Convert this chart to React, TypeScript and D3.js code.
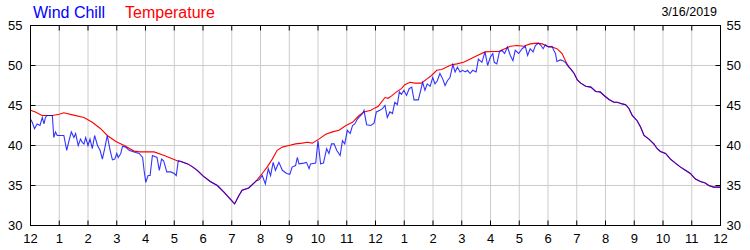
import React from 'react';
import * as d3 from 'd3';

// [hour of day, °F]
const temperature: [number, number][] = [
  [0, 44.4], [0.17, 44.2], [0.4, 43.75], [0.76, 43.75], [1.0, 43.9], [1.16, 44.1], [1.5, 43.8],
  [1.86, 43.5], [2.15, 42.9], [2.44, 42.1], [2.67, 41.25], [2.97, 40.5], [3.26, 40.0], [3.6, 39.3],
  [3.8, 39.2], [4.3, 39.2], [4.65, 38.75], [5.1, 38.1], [5.23, 38.0], [5.47, 37.7], [5.65, 37.3],
  [5.8, 36.9], [6.0, 36.2], [6.25, 35.5], [6.5, 35.0], [6.72, 34.2], [6.95, 33.3], [7.1, 32.7],
  [7.24, 33.7], [7.36, 34.4], [7.59, 34.7], [7.77, 35.3], [7.86, 35.6], [8.06, 36.5], [8.23, 37.3],
  [8.41, 38.3], [8.58, 39.4], [8.76, 39.8], [8.99, 40.0], [9.22, 40.2], [9.45, 40.3], [9.63, 40.4],
  [9.8, 40.3], [10.03, 40.8], [10.27, 41.4], [10.5, 41.7], [10.73, 41.9], [10.97, 42.5], [11.2, 42.9],
  [11.43, 43.75], [11.6, 44.2], [11.84, 44.4], [11.98, 44.7], [12.1, 44.9], [12.2, 45.4], [12.33, 46.0],
  [12.44, 45.9], [12.56, 46.2], [12.73, 46.7], [12.9, 47.1], [13.02, 47.6], [13.2, 47.9], [13.37, 47.8],
  [13.6, 47.8], [13.78, 48.3], [13.95, 48.75], [14.13, 49.4], [14.3, 49.5], [14.48, 49.8], [14.65, 50.1],
  [14.83, 50.2], [15.06, 50.4], [15.23, 50.7], [15.4, 51.0], [15.58, 51.3], [15.81, 51.7], [16.05, 51.75],
  [16.28, 51.75], [16.5, 52.1], [16.69, 52.4], [16.92, 52.5], [17.15, 52.4], [17.38, 52.7], [17.62, 52.8],
  [17.8, 52.7], [17.97, 52.4], [18.14, 52.3], [18.31, 52.1], [18.49, 51.5], [18.66, 50.2], [18.78, 49.6],
  [18.91, 49.0], [19.02, 48.2], [19.14, 47.8], [19.31, 47.4], [19.49, 47.3], [19.66, 46.75], [19.81, 46.7],
  [19.95, 46.25], [20.12, 45.75], [20.29, 45.4], [20.41, 45.4], [20.58, 45.2], [20.7, 45.1], [20.82, 44.6],
  [20.93, 43.75], [21.1, 43.1], [21.22, 42.3], [21.34, 41.25], [21.51, 40.8], [21.68, 40.2], [21.8, 39.6],
  [21.91, 39.25], [22.09, 39.0], [22.26, 38.3], [22.43, 37.8], [22.61, 37.3], [22.78, 36.9], [22.95, 36.5],
  [23.13, 35.8], [23.3, 35.5], [23.47, 35.3], [23.59, 35.0], [23.76, 34.8], [24.0, 34.8],
];

const windChill: [number, number][] = [
  [0, 43.3], [0.06, 42.9], [0.14, 42.1], [0.23, 42.7], [0.33, 42.5], [0.41, 43.5], [0.47, 42.7],
  [0.52, 43.5], [0.58, 43.75], [0.76, 43.75], [0.81, 41.0], [0.87, 41.7], [0.93, 41.25], [1.16, 41.25],
  [1.26, 39.4], [1.34, 40.6], [1.42, 41.7], [1.51, 41.0], [1.57, 41.5], [1.66, 40.0], [1.74, 40.8],
  [1.8, 40.4], [1.86, 40.2], [1.92, 41.0], [2.0, 40.0], [2.07, 40.8], [2.15, 39.6], [2.23, 41.25],
  [2.33, 40.0], [2.42, 39.4], [2.5, 38.3], [2.58, 39.6], [2.67, 41.25], [2.77, 39.4], [2.85, 38.2],
  [2.93, 38.3], [3.0, 39.0], [3.05, 38.5], [3.14, 39.0], [3.2, 39.9], [3.31, 39.8], [3.43, 39.4],
  [3.6, 39.2], [3.78, 39.0], [3.9, 38.5], [3.95, 36.9], [4.01, 35.4], [4.09, 36.25], [4.16, 36.25],
  [4.24, 38.75], [4.4, 38.5], [4.48, 36.9], [4.56, 38.3], [4.63, 38.1], [4.74, 36.7], [4.88, 36.7],
  [5.0, 36.5], [5.07, 36.25], [5.14, 38.1], [5.23, 38.0], [5.47, 37.7], [5.65, 37.3], [5.8, 36.9],
  [6.0, 36.2], [6.25, 35.5], [6.5, 35.0], [6.72, 34.2], [6.95, 33.3], [7.1, 32.7], [7.24, 33.7],
  [7.36, 34.4], [7.59, 34.7], [7.77, 35.3], [7.86, 35.6], [7.95, 35.7], [8.06, 36.25], [8.17, 35.2],
  [8.27, 37.1], [8.35, 36.25], [8.44, 37.9], [8.52, 36.9], [8.64, 37.9], [8.76, 36.9], [8.91, 36.5],
  [9.02, 36.4], [9.1, 37.3], [9.22, 37.5], [9.28, 38.5], [9.34, 37.7], [9.51, 37.8], [9.6, 37.9],
  [9.69, 37.1], [9.74, 37.7], [9.92, 37.8], [10.0, 40.6], [10.09, 37.7], [10.19, 37.8], [10.3, 39.6],
  [10.38, 39.0], [10.47, 40.2], [10.56, 40.2], [10.65, 39.4], [10.77, 38.75], [10.85, 40.6], [10.93, 40.2],
  [11.02, 41.9], [11.12, 41.5], [11.2, 42.5], [11.28, 42.7], [11.37, 43.3], [11.55, 44.0], [11.6, 44.4],
  [11.69, 42.6], [11.84, 42.5], [11.95, 42.8], [12.03, 44.2], [12.15, 44.4], [12.24, 44.6], [12.33, 45.0],
  [12.41, 43.5], [12.5, 44.2], [12.59, 44.0], [12.67, 45.4], [12.76, 45.1], [12.83, 46.7], [12.9, 46.4],
  [12.99, 46.9], [13.08, 46.25], [13.17, 47.1], [13.26, 47.3], [13.34, 45.7], [13.49, 45.7], [13.64, 47.9],
  [13.72, 46.9], [13.8, 47.7], [13.9, 47.4], [13.99, 48.5], [14.07, 47.7], [14.15, 48.1], [14.24, 49.0],
  [14.34, 48.3], [14.42, 47.5], [14.5, 48.1], [14.59, 48.5], [14.69, 50.1], [14.77, 49.2], [14.85, 49.8],
  [14.94, 49.2], [15.03, 49.4], [15.12, 49.2], [15.2, 49.4], [15.29, 49.0], [15.38, 49.4], [15.5, 49.2],
  [15.58, 50.8], [15.7, 50.4], [15.81, 51.7], [15.9, 50.0], [15.99, 51.0], [16.08, 51.5], [16.13, 50.4],
  [16.22, 50.2], [16.31, 51.7], [16.4, 51.9], [16.49, 51.5], [16.59, 52.3], [16.69, 51.25], [16.78, 50.6],
  [16.86, 51.9], [16.98, 51.5], [17.1, 52.1], [17.21, 52.4], [17.29, 51.25], [17.38, 52.1], [17.48, 51.7],
  [17.56, 52.5], [17.67, 52.8], [17.76, 52.5], [17.83, 52.1], [17.91, 52.6], [18.03, 52.3], [18.14, 52.4],
  [18.2, 51.9], [18.26, 51.5], [18.31, 50.5], [18.43, 50.7], [18.52, 50.6], [18.6, 50.4], [18.72, 49.8],
  [18.78, 49.6], [18.91, 49.0], [19.02, 48.2], [19.14, 47.8], [19.31, 47.4], [19.49, 47.3], [19.66, 46.75],
  [19.81, 46.7], [19.95, 46.25], [20.12, 45.75], [20.29, 45.4], [20.41, 45.4], [20.58, 45.2], [20.7, 45.1],
  [20.82, 44.6], [20.93, 43.75], [21.1, 43.1], [21.22, 42.3], [21.34, 41.25], [21.51, 40.8], [21.68, 40.2],
  [21.8, 39.6], [21.91, 39.25], [22.09, 39.0], [22.26, 38.3], [22.43, 37.8], [22.61, 37.3], [22.78, 36.9],
  [22.95, 36.5], [23.13, 35.8], [23.3, 35.5], [23.47, 35.3], [23.59, 35.0], [23.76, 34.8], [24.0, 34.8],
];

const hourTicks = d3.range(0, 25);
const hourLabels = ['12', '1', '2', '3', '4', '5', '6', '7', '8', '9', '10', '11',
  '12', '1', '2', '3', '4', '5', '6', '7', '8', '9', '10', '11', '12'];
const tempTicks = [30, 35, 40, 45, 50, 55];
const dateLabel = '3/16/2019';

const W = 750;
const H = 250;
const margin = { top: 25.5, right: 29.5, bottom: 24.5, left: 30.5 };
const FONT = '"Liberation Sans", Arial, Helvetica, sans-serif';

const App: React.FC = () => {
  const x = d3.scaleLinear().domain([0, 24]).range([margin.left, W - margin.right]);
  const y = d3.scaleLinear().domain([30, 55]).range([H - margin.bottom, margin.top]);
  const line = d3.line<[number, number]>()
    .x(d => x(d[0]))
    .y(d => y(d[1]));

  const x0 = x(0), x1 = x(24), y0 = y(30), y1 = y(55);
  const tick = 5;

  return (
    <svg width={W} height={H} style={{ position: 'absolute', left: 0, top: 0, background: '#fff' }}
      fontFamily={FONT}>
      <rect x={0} y={0} width={W} height={H} fill="#fff" />

      {/* grid */}
      {hourTicks.slice(1, -1).map(h => (
        <line key={`gx${h}`} x1={x(h)} x2={x(h)} y1={y1} y2={y0} stroke="#cccccc" strokeWidth={1} />
      ))}
      {tempTicks.slice(1, -1).map(t => (
        <line key={`gy${t}`} x1={x0} x2={x1} y1={y(t)} y2={y(t)} stroke="#cccccc" strokeWidth={1} />
      ))}

      {/* series */}
      <path d={line(temperature) || ''} fill="none" stroke="#ff0000" strokeWidth={1.1} />
      <path d={line(windChill) || ''} fill="none" stroke="#0000ff" strokeOpacity={0.8} strokeWidth={1.1} />

      {/* frame */}
      <rect x={x0} y={y1} width={x1 - x0} height={y0 - y1} fill="none" stroke="#000" strokeWidth={1} />

      {/* tick marks */}
      {hourTicks.slice(1, -1).map(h => (
        <g key={`tx${h}`}>
          <line x1={x(h)} x2={x(h)} y1={y1} y2={y1 + tick} stroke="#000" />
          <line x1={x(h)} x2={x(h)} y1={y0} y2={y0 - tick} stroke="#000" />
        </g>
      ))}
      {tempTicks.slice(1, -1).map(t => (
        <g key={`ty${t}`}>
          <line x1={x0} x2={x0 + tick} y1={y(t)} y2={y(t)} stroke="#000" />
          <line x1={x1} x2={x1 - tick} y1={y(t)} y2={y(t)} stroke="#000" />
        </g>
      ))}

      {/* axis labels */}
      {hourTicks.map((h, i) => (
        <text key={`lx${h}`} x={x(h)} y={243} textAnchor="middle" fontSize={13} fill="#000">
          {hourLabels[i]}
        </text>
      ))}
      {tempTicks.map(t => (
        <g key={`ly${t}`}>
          <text x={x0 - 8} y={y(t)} dy="0.35em" textAnchor="end" fontSize={13} fill="#000">{t}</text>
          <text x={x1 + 6} y={y(t)} dy="0.35em" textAnchor="start" fontSize={13} fill="#000">{t}</text>
        </g>
      ))}

      {/* legend and date */}
      <text x={33} y={17.5} fontSize={16} fill="#0000ff">Wind Chill</text>
      <text x={125} y={17.5} fontSize={16} fill="#ff0000">Temperature</text>
      <text x={717} y={16} fontSize={12.5} textAnchor="end" fill="#000">{dateLabel}</text>
    </svg>
  );
};

export default App;
